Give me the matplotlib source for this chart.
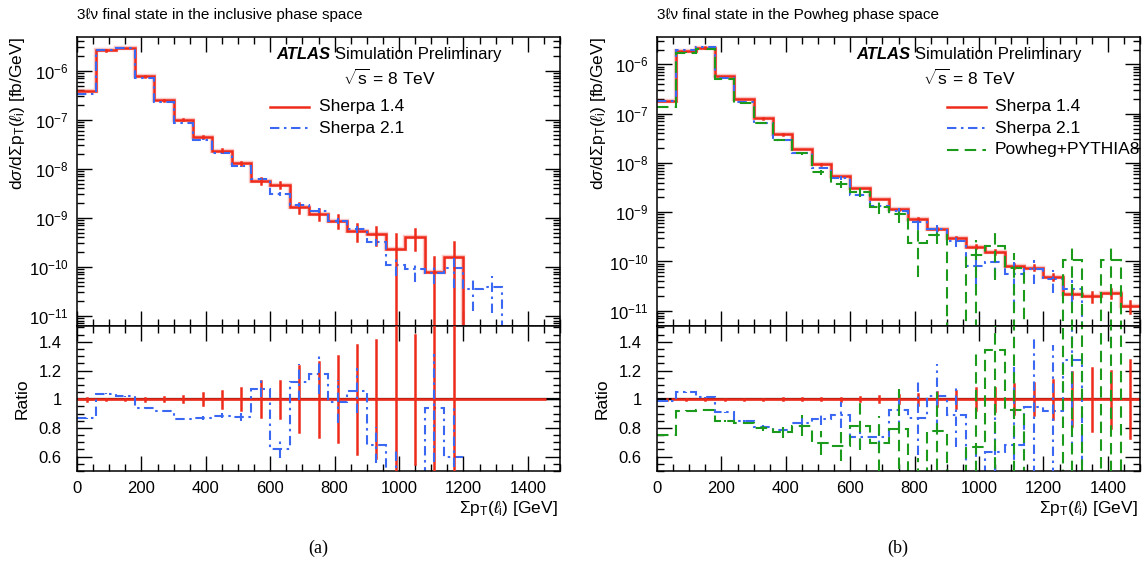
import numpy as np
import matplotlib
matplotlib.use('Agg')
import matplotlib.pyplot as plt
from matplotlib.ticker import MultipleLocator, LogLocator, NullFormatter, FixedLocator, FuncFormatter

plt.rcParams['font.family'] = ['Liberation Sans', 'DejaVu Sans']
plt.rcParams['mathtext.fontset'] = 'custom'
plt.rcParams['mathtext.rm'] = 'Liberation Sans'
plt.rcParams['mathtext.it'] = 'Liberation Sans:italic'
plt.rcParams['mathtext.bf'] = 'Liberation Sans:bold'
plt.rcParams['axes.linewidth'] = 1.1

# ---------------- data ----------------
bin_edges = [0, 60, 120, 180, 240, 300, 360, 420, 480, 540, 600, 660, 720, 780,
             840, 900, 960, 1020, 1080, 1140, 1200, 1260, 1320, 1380, 1440, 1500]

# (a) inclusive phase space
sherpa14_a = [3.9e-7, 2.6e-6, 2.9e-6, 7.7e-7, 2.5e-7, 1.0e-7, 4.5e-8, 2.35e-8, 1.29e-8,
              5.7e-9, 4.7e-9, 1.65e-9, 1.2e-9, 8.8e-10, 5.5e-10, 4.7e-10, 2.3e-10,
              4.0e-10, 7.9e-11, 1.58e-10, 0, 0, 0, 0, 0]
sherpa21_a = [3.38e-7, 2.70e-6, 2.96e-6, 7.24e-7, 2.29e-7, 8.63e-8, 3.92e-8, 2.08e-8,
              1.13e-8, 6.12e-9, 3.06e-9, 1.85e-9, 1.41e-9, 8.66e-10, 5.83e-10, 3.2e-10,
              1.07e-10, 8.9e-11, 7.43e-11, 9.4e-11, 3.6e-11, 3.8e-11, 0, 0, 0]
sherpa14_a_relerr = [0.01, 0.004, 0.004, 0.01, 0.015, 0.02, 0.043, 0.06, 0.078, 0.125,
                     0.13, 0.23, 0.26, 0.3, 0.38, 0.41, 1.0, 0.45, 1.0, 1.0, 0, 0, 0, 0, 0]
sherpa21_a_relerr = [0.004, 0.003, 0.003, 0.005, 0.007, 0.01, 0.015, 0.02, 0.03, 0.055,
                     0.09, 0.11, 0.12, 0.15, 0.15, 0.18, 0.4, 0.45, 0.4, 0.6, 0.65, 0.7, 0, 0, 0]

# (b) Powheg phase space
sherpa14_b = [1.8e-7, 1.89e-6, 2.2e-6, 5.9e-7, 2.0e-7, 8.0e-8, 3.8e-8, 1.91e-8, 9.3e-9,
              5.5e-9, 3.1e-9, 1.85e-9, 1.15e-9, 7.3e-10, 4.5e-10, 3.0e-10, 2.0e-10,
              1.55e-10, 8.1e-11, 7.5e-11, 4.9e-11, 2.2e-11, 1.95e-11, 2.27e-11, 1.26e-11]
sherpa21_b = [1.78e-7, 1.98e-6, 2.23e-6, 5.36e-7, 1.70e-7, 6.44e-8, 2.99e-8, 1.60e-8,
              8.0e-9, 4.9e-9, 2.28e-9, 1.36e-9, 1.06e-9, 6.35e-10, 4.59e-10, 2.66e-10,
              8.1e-11, 9.8e-11, 5.5e-11, 7.1e-11, 4.5e-11, 2.8e-11, 0, 0, 0]
powheg_b = [1.35e-7, 1.74e-6, 2.03e-6, 5.02e-7, 1.67e-7, 6.38e-8, 2.93e-8, 1.56e-8,
            6.44e-9, 3.69e-9, 2.53e-9, 1.28e-9, 9.1e-10, 2.4e-10, 3.5e-10, 0, 1.34e-10,
            2.08e-10, 7.5e-11, 0, 0, 1.07e-10, 0, 1.07e-10, 0]
sherpa14_b_relerr = [0.003, 0.002, 0.002, 0.003, 0.004, 0.005, 0.006, 0.007, 0.008, 0.01,
                     0.012, 0.02, 0.027, 0.037, 0.05, 0.06, 0.075, 0.08, 0.105, 0.113,
                     0.136, 0.19, 0.22, 0.2, 0.27]
sherpa21_b_relerr = [0.005, 0.004, 0.004, 0.006, 0.01, 0.015, 0.02, 0.035, 0.05, 0.1, 0.1,
                     0.12, 0.15, 0.3, 0.22, 0.25, 0.6, 0.5, 0.8, 0.5, 0.5, 0.5, 0, 0, 0]
powheg_b_relerr = [0.005, 0.004, 0.004, 0.008, 0.01, 0.02, 0.05, 0.09, 0.12, 0.15, 0.21,
                   0.28, 0.35, 0.8, 0.35, 0, 1.0, 0.8, 1.0, 0, 0, 1.0, 0, 1.0, 0]

labels = ['Sherpa 1.4', 'Sherpa 2.1', 'Powheg+PYTHIA8']
titles = ['3\u2113\u03bd final state in the inclusive phase space',
          '3\u2113\u03bd final state in the Powheg phase space']
panel_tags = ['(a)', '(b)']

# ---------------- style ----------------
RED = '#ee2a1a'
BLUE = '#3a68f2'
GREEN = '#1c9a1c'
DASHDOT = (0, (4.5, 2.2, 1.2, 2.2))
DASHED = (0, (5.5, 3.0))

W, H = 1147, 568
fig = plt.figure(figsize=(W / 100, H / 100), dpi=100)

def fx(px):
    return px / W

def fy(py):
    return 1 - py / H

edges = np.array(bin_edges, dtype=float)
centers = 0.5 * (edges[1:] + edges[:-1])


def style_axes(ax):
    ax.tick_params(which='both', direction='in', top=True, right=True,
                   labelsize=12, width=1.0, colors='black')
    ax.tick_params(which='major', length=10.5)
    ax.tick_params(which='minor', length=4.8)
    ax.xaxis.set_major_locator(MultipleLocator(200))
    ax.xaxis.set_minor_locator(MultipleLocator(50))
    ax.set_xlim(0, 1500)


def draw_err(ax, vals, rel, color, ls, lw, floor):
    for c, v, r in zip(centers, vals, rel):
        if v > 0 and r > 0:
            lo = max(v * (1 - r), floor)
            hi = v * (1 + r)
            ax.plot([c, c], [lo, hi], color=color, ls=ls, lw=lw, zorder=3)


def ratio_vals(num, den):
    num = np.array(num, float)
    den = np.array(den, float)
    out = np.full_like(num, np.nan)
    m = den > 0
    out[m] = num[m] / den[m]
    return out


panels = [
    dict(x0=77, ylim=(6.2e-12, 4.9e-6),
         series=[(sherpa14_a, sherpa14_a_relerr, RED, '-', labels[0]),
                 (sherpa21_a, sherpa21_a_relerr, BLUE, DASHDOT, labels[1])],
         red_span=(0, 1455)),
    dict(x0=657, ylim=(4.9e-12, 3.6e-6),
         series=[(sherpa14_b, sherpa14_b_relerr, RED, '-', labels[0]),
                 (sherpa21_b, sherpa21_b_relerr, BLUE, DASHDOT, labels[1]),
                 (powheg_b, powheg_b_relerr, GREEN, DASHED, labels[2])],
         red_span=(45, 1500)),
]

top_px, mid_px, bot_px = 37, 326, 471
width_px = 483

for i, p in enumerate(panels):
    x0 = p['x0']
    axu = fig.add_axes([fx(x0), fy(mid_px), fx(width_px), fy(top_px) - fy(mid_px)])
    axr = fig.add_axes([fx(x0), fy(bot_px), fx(width_px), fy(mid_px) - fy(bot_px)])

    # ----- upper panel -----
    axu.set_yscale('log')
    for vals, rel, col, ls, lab in p['series']:
        lw = 1.8 if col == RED else 1.5
        if col == RED:
            axu.stairs(vals, edges, color=col, lw=3.2, alpha=0.25, baseline=None, zorder=2)
        axu.stairs(vals, edges, color=col, lw=lw, ls=ls, baseline=None, zorder=2)
        draw_err(axu, vals, rel, col, ls, lw, 1e-15)
    axu.set_ylim(*p['ylim'])
    style_axes(axu)
    axu.yaxis.set_major_locator(LogLocator(base=10, numticks=30))
    axu.yaxis.set_minor_locator(LogLocator(base=10, subs=np.arange(2, 10), numticks=30))
    axu.yaxis.set_minor_formatter(NullFormatter())
    axu.tick_params(axis='x', labelbottom=False)
    axu.tick_params(axis='y', pad=6)

    # legend (manual, ROOT-like)
    leg_x0, leg_x1, leg_tx = ((0.400, 0.480, 0.501) if i == 0 else (0.600, 0.681, 0.700))
    leg_ys = [0.759, 0.684, 0.609]
    for k, (vals, rel, col, ls, lab) in enumerate(p['series']):
        lw = 1.8 if col == RED else 1.5
        axu.plot([leg_x0, leg_x1], [leg_ys[k]] * 2, color=col, ls=ls, lw=lw,
                 transform=axu.transAxes, clip_on=False)
        axu.text(leg_tx, leg_ys[k], lab, transform=axu.transAxes, fontsize=12.5,
                 va='center', ha='left')

    t1 = axu.text(0.413, 0.938, 'ATLAS', transform=axu.transAxes, fontsize=12,
                  fontweight='bold', fontstyle='italic', va='center', ha='left')
    fig.canvas.draw()
    bb = t1.get_window_extent(renderer=fig.canvas.get_renderer())
    xa = axu.transAxes.inverted().transform((bb.x1 + 4, bb.y0))[0]
    axu.text(xa, 0.938, 'Simulation Preliminary', transform=axu.transAxes,
             fontsize=12, va='center', ha='left')
    axu.text(0.648, 0.858, r'$\sqrt{\mathrm{s}}$ = 8 TeV', transform=axu.transAxes,
             fontsize=12.5, va='center', ha='center')

    # ----- ratio panel -----
    axr.axhline(1.0, color='black', lw=1.6, zorder=1)
    axr.hlines(1.0, p['red_span'][0], p['red_span'][1], color=RED, lw=1.9, zorder=2)
    ref_vals = p['series'][0][0]
    ref_rel = p['series'][0][1]
    for c, v, r in zip(centers, ref_vals, ref_rel):
        if v > 0 and r > 0:
            axr.plot([c, c], [1 - r, 1 + r], color=RED, lw=1.8, zorder=3)
    for vals, rel, col, ls, lab in p['series'][1:]:
        rv = ratio_vals(vals, ref_vals)
        axr.stairs(rv, edges, color=col, lw=1.5, ls=ls, baseline=None, zorder=2)
        for c, v, r in zip(centers, rv, rel):
            if np.isfinite(v) and v > 0 and r > 0:
                axr.plot([c, c], [v * (1 - r), v * (1 + r)], color=col, ls=ls,
                         lw=1.5, zorder=3)
    axr.set_ylim(0.5, 1.51)
    style_axes(axr)
    axr.yaxis.set_major_locator(FixedLocator([0.6, 0.8, 1.0, 1.2, 1.4]))
    axr.yaxis.set_minor_locator(MultipleLocator(0.05))
    axr.yaxis.set_major_formatter(FuncFormatter(lambda v, pos: f'{v:g}'))
    axr.tick_params(axis='y', pad=11, labelsize=12)
    axr.tick_params(axis='x', pad=7)

    # axis titles
    fig.text(fx(x0 - 59), fy(top_px), r'd$\sigma$/d$\Sigma$p$_{\rm T}$($\ell_{\rm i}$) [fb/GeV]',
             rotation=90, ha='center', va='top', fontsize=12.5)
    fig.text(fx(x0 - 55), fy(398.5), 'Ratio', rotation=90, ha='center', va='center',
             fontsize=12.5)
    fig.text(fx(x0 + width_px - 2), fy(508), r'$\Sigma$p$_{\rm T}$($\ell_{\rm i}$) [GeV]',
             ha='right', va='center', fontsize=12.5)
    fig.text(fx(x0), fy(15), titles[i], ha='left', va='center', fontsize=11)
    fig.text(fx(x0 + 241), fy(548), panel_tags[i], ha='center', va='center',
             fontsize=13, family=['Liberation Serif', 'DejaVu Serif'])

fig.savefig('out.png', dpi=100)
